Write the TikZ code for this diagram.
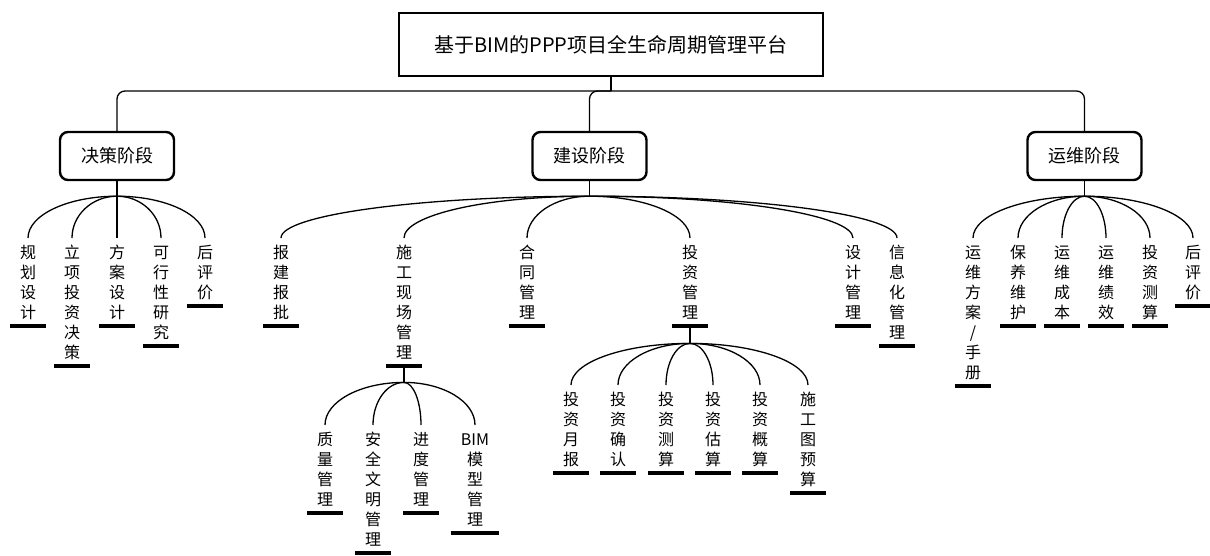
\documentclass[tikz,border=0pt]{standalone}
\usepackage{fontspec}
\setmainfont{Noto Sans CJK SC}
\usetikzlibrary{calc}
\makeatletter
\def\vst#1{\vst@a#1\@nil}
\def\vst@a#1#2\@nil{\strut#1\ifx\relax#2\relax\expandafter\@gobble\else\expandafter\@firstofone\fi{\\\vst@a#2\@nil}}
\makeatother
\newcommand\leaffont{\fontsize{16pt}{20pt}\selectfont}
\newcommand\br[2]{%
  \coordinate (#2t) at ([yshift=6pt]#2.north);
  \coordinate (#2k) at (#1 -| #2t);
  \draw[conn] (#1) .. controls ($(#1)!0.552!(#2k)$) and ($(#2t)!0.552!(#2k)$) .. (#2t);}
\tikzset{
  conn/.style={line width=1.3pt, black},
  bar/.style={line width=4pt, black},
  leaf/.style={anchor=north, align=center, inner xsep=10pt, inner ysep=0pt, font=\leaffont},
  phase/.style={draw, line width=2.4pt, rounded corners=8pt, minimum width=114pt, minimum height=48pt, inner sep=0pt, font=\fontsize{18pt}{22pt}\selectfont},
  rootbox/.style={draw, line width=2pt, minimum width=424pt, minimum height=63pt, inner sep=0pt, font=\fontsize{20pt}{24pt}\selectfont}
}
\begin{document}
\begin{tikzpicture}[x=1pt,y=-1pt]
\useasboundingbox[fill=white] (0,0) rectangle (1210,555);
% root and phases
\node[rootbox] (root) at (611,44.5) {基于BIM的PPP项目全生命周期管理平台};
\node[phase] (p1) at (117,156) {决策阶段};
\node[phase] (p2) at (589.5,156) {建设阶段};
\node[phase] (p3) at (1084.5,156) {运维阶段};
\coordinate (T) at ([yshift=-14pt]root.south);
\draw[conn] (root.south) -- (T);
\draw[conn, rounded corners=8pt] (T) -| (p1.north);
\draw[conn, rounded corners=8pt] (T) -| (p2.north);
\draw[conn, rounded corners=8pt] (T) -| (p3.north);
% joins
\coordinate (J1) at ([yshift=-15pt]p1.south);
\coordinate (J2) at ([yshift=-15pt]p2.south);
\coordinate (J5) at ([yshift=-15pt]p3.south);
\draw[conn] (p1.south) -- (J1);
\draw[conn] (p2.south) -- (J2);
\draw[conn] (p3.south) -- (J5);
% decision leaves
\node[leaf] (a1) at (28,244) {\vst{规划设计}};
\node[leaf] (a2) at (72,244) {\vst{立项投资决策}};
\node[leaf] (a3) at (117,244) {\vst{方案设计}};
\node[leaf] (a4) at (161,244) {\vst{可行性研究}};
\node[leaf] (a5) at (205,244) {\vst{后评价}};
% construction leaves
\node[leaf] (b1) at (281,244) {\vst{报建报批}};
\node[leaf] (b2) at (404,244) {\vst{施工现场管理}};
\node[leaf] (b3) at (527,244) {\vst{合同管理}};
\node[leaf] (b4) at (690,244) {\vst{投资管理}};
\node[leaf] (b5) at (853,244) {\vst{设计管理}};
\node[leaf] (b6) at (897,244) {\vst{信息化管理}};
% site management sub leaves
\node[leaf] (c1) at (325,431) {\vst{质量管理}};
\node[leaf] (c2) at (373,431) {\vst{安全文明管理}};
\node[leaf] (c3) at (421,431) {\vst{进度管理}};
\node[leaf] (c4) at (475,431) {\vst{{BIM}模型管理}};
% investment management sub leaves
\node[leaf] (d1) at (571,391) {\vst{投资月报}};
\node[leaf] (d2) at (618,391) {\vst{投资确认}};
\node[leaf] (d3) at (666,391) {\vst{投资测算}};
\node[leaf] (d4) at (713,391) {\vst{投资估算}};
\node[leaf] (d5) at (760,391) {\vst{投资概算}};
\node[leaf] (d6) at (808,391) {\vst{施工图预算}};
% operation leaves
\node[leaf] (e1) at (973,244) {\vst{运维方案/手册}};
\node[leaf] (e2) at (1018,244) {\vst{保养维护}};
\node[leaf] (e3) at (1062,244) {\vst{运维成本}};
\node[leaf] (e4) at (1106,244) {\vst{运维绩效}};
\node[leaf] (e5) at (1150,244) {\vst{投资测算}};
\node[leaf] (e6) at (1193,244) {\vst{后评价}};
% bars
\foreach \n in {a1,a2,a3,a4,a5,b1,b2,b3,b4,b5,b6,c1,c2,c3,c4,d1,d2,d3,d4,d5,d6,e1,e2,e3,e4,e5,e6}
  \draw[bar] ([yshift=-2pt]\n.south west) -- ([yshift=-2pt]\n.south east);
% sub joins
\coordinate (J3) at ([yshift=-18pt]b2.south);
\coordinate (J4) at ([yshift=-19pt]b4.south);
\draw[conn] ([yshift=-2pt]b2.south) -- (J3);
\draw[conn] ([yshift=-2pt]b4.south) -- (J4);
% branches
\foreach \n in {a1,a2,a3,a4,a5} {\br{J1}{\n}}
\foreach \n in {b1,b2,b3,b4,b5,b6} {\br{J2}{\n}}
\foreach \n in {c1,c2,c3,c4} {\br{J3}{\n}}
\foreach \n in {d1,d2,d3,d4,d5,d6} {\br{J4}{\n}}
\foreach \n in {e1,e2,e3,e4,e5,e6} {\br{J5}{\n}}
\end{tikzpicture}
\end{document}
